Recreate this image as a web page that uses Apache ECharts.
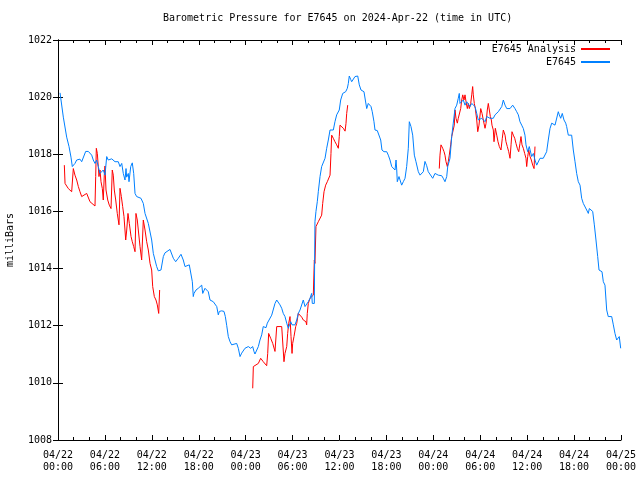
<!DOCTYPE html>
<html>
<head>
<meta charset="utf-8">
<script src="https://cdn.jsdelivr.net/npm/echarts@6/dist/echarts.min.js"></script>
<style>html,body{margin:0;padding:0;background:#fff}#c{width:640px;height:480px}</style>
</head>
<body>
<div id="c"></div>
<script>
// Hours since 2024-04-22 00:00 UTC
const blueHours = [0.26,0.68,1.11,1.41,1.66,1.83,1.96,2.17,2.39,2.81,3.03,3.24,3.54,3.88,4.09,4.31,4.51,4.73,4.95,5.15,5.37,5.59,5.79,6.01,6.23,6.43,6.65,6.87,7.07,7.29,7.71,7.93,8.15,8.35,8.57,8.70,8.78,8.99,9.08,9.30,9.50,9.68,9.85,10.06,10.27,10.61,10.91,11.13,11.55,11.98,12.19,12.62,12.83,13.17,13.47,13.68,14.32,14.75,15.05,15.38,15.73,16.02,16.24,16.46,16.79,17.01,17.18,17.30,17.39,17.65,17.94,18.16,18.38,18.51,18.80,19.02,19.22,19.44,19.66,19.86,20.08,20.30,20.50,20.63,20.94,21.23,21.40,21.58,21.78,22.00,22.21,22.42,22.85,23.06,23.28,23.49,23.70,23.91,24.34,24.46,24.64,24.90,25.07,25.19,25.41,25.62,25.83,26.05,26.25,26.47,26.60,26.77,27.02,27.33,27.53,27.75,27.97,28.17,28.39,28.61,28.81,29.03,29.25,29.45,29.58,29.76,29.93,30.31,30.53,30.73,30.95,31.17,31.37,31.59,31.80,32.01,32.23,32.44,32.52,32.78,32.86,32.99,33.16,33.29,33.51,33.72,33.93,34.15,34.36,34.57,34.79,35.00,35.21,35.42,35.64,35.85,35.97,36.15,36.41,36.61,36.79,37.00,37.13,37.25,37.43,37.56,37.76,37.98,38.20,38.33,38.53,38.75,38.92,39.13,39.35,39.48,39.68,39.90,40.03,40.19,40.41,40.54,40.83,41.05,41.27,41.43,41.69,42.04,42.24,42.46,42.68,42.88,43.10,43.23,43.32,43.39,43.61,43.74,43.95,44.16,44.38,44.59,44.80,44.93,45.14,45.36,45.57,45.78,46.08,46.30,46.51,46.72,46.93,47.15,47.35,47.57,47.92,48.21,48.63,49.07,49.27,49.49,49.71,49.84,50.13,50.35,50.55,50.77,50.99,51.19,51.32,51.41,51.63,51.83,52.05,52.27,52.47,52.69,52.91,53.11,53.33,53.55,53.75,53.97,54.19,54.39,54.61,54.83,55.03,55.25,55.47,55.67,55.89,56.11,56.31,56.53,56.75,56.95,57.17,57.39,57.81,58.15,58.44,58.66,58.87,59.08,59.30,59.51,59.72,59.85,60.07,60.27,60.58,60.79,61.00,61.22,61.42,61.64,61.86,62.06,62.28,62.49,62.70,62.92,63.14,63.34,63.56,63.78,63.98,64.11,64.29,64.49,64.71,64.93,65.05,65.26,65.69,65.90,66.12,66.33,66.54,66.76,66.97,67.18,67.40,67.61,67.82,67.95,68.13,68.38,68.59,68.80,69.02,69.19,69.40,69.57,69.74,69.95,70.17,70.37,70.81,71.02,71.23,71.45,71.65,71.78,71.96];
const blueValues = [1020.15,1019.3,1018.6,1018.27,1017.9,1017.57,1017.5,1017.68,1017.8,1017.83,1017.74,1017.8,1018.1,1018.1,1018.03,1017.97,1017.8,1017.68,1017.8,1017.57,1017.33,1017.27,1017.45,1017.27,1017.92,1017.8,1017.8,1017.84,1017.8,1017.74,1017.74,1017.57,1017.68,1017.33,1017.1,1017.5,1017.2,1017.33,1017.04,1017.57,1017.7,1017.33,1016.63,1016.52,1016.57,1016.46,1016.28,1015.93,1015.58,1015.0,1014.53,1014.07,1013.92,1013.95,1014.42,1014.55,1014.67,1014.36,1014.24,1014.36,1014.5,1014.3,1014.07,1014.13,1014.13,1014.07,1013.54,1013.02,1013.13,1013.25,1013.31,1013.37,1013.42,1013.13,1013.31,1013.28,1013.19,1012.9,1012.96,1012.84,1012.78,1012.67,1012.38,1012.5,1012.52,1012.5,1012.32,1012.0,1011.62,1011.44,1011.33,1011.38,1011.38,1011.21,1010.92,1011.04,1011.09,1011.21,1011.27,1011.33,1011.21,1011.27,1011.09,1011.01,1011.01,1011.27,1011.5,1011.68,1011.97,1012.03,1011.93,1012.09,1012.06,1012.37,1012.43,1012.78,1012.9,1012.84,1012.73,1012.61,1012.43,1012.32,1012.09,1011.91,1011.85,1012.14,1012.03,1012.03,1012.2,1012.43,1012.55,1012.61,1012.9,1012.67,1012.61,1012.84,1012.96,1013.13,1012.78,1012.78,1015.64,1016.0,1016.34,1016.69,1017.22,1017.57,1017.62,1017.86,1018.21,1018.5,1018.85,1018.9,1018.85,1019.14,1019.38,1019.44,1019.55,1019.9,1020.13,1020.07,1020.19,1020.31,1020.48,1020.74,1020.62,1020.54,1020.54,1020.72,1020.66,1020.74,1020.43,1020.25,1020.31,1020.19,1020.13,1019.6,1019.78,1019.84,1019.67,1019.49,1019.14,1018.85,1018.83,1018.9,1018.5,1018.15,1018.09,1018.09,1017.97,1017.8,1017.57,1017.51,1017.45,1017.8,1017.45,1017.04,1017.22,1017.1,1016.92,1017.04,1017.16,1017.57,1018.21,1019.14,1018.97,1018.67,1017.97,1017.74,1017.39,1017.27,1017.27,1017.39,1017.75,1017.6,1017.39,1017.33,1017.16,1017.33,1017.27,1017.25,1017.16,1017.04,1017.22,1017.57,1017.86,1018.62,1019.09,1019.6,1019.72,1019.96,1020.13,1019.78,1019.78,1019.9,1019.72,1019.84,1019.78,1019.67,1019.78,1019.72,1019.67,1019.43,1019.2,1019.14,1019.26,1019.2,1019.14,1019.32,1019.38,1019.26,1019.2,1019.26,1019.38,1019.32,1019.49,1019.43,1019.67,1019.9,1019.72,1019.6,1019.6,1019.72,1019.6,1019.49,1019.38,1019.14,1019.02,1018.9,1018.67,1018.33,1018.09,1018.27,1017.92,1018.03,1017.8,1017.62,1017.62,1017.86,1017.92,1017.86,1017.92,1018.09,1018.5,1018.9,1019.09,1019.12,1019.02,1019.09,1019.49,1019.38,1019.26,1019.43,1019.2,1019.09,1018.97,1018.67,1018.67,1018.15,1017.74,1017.33,1017.04,1016.92,1016.46,1016.28,1016.22,1016.05,1015.93,1016.1,1016.05,1016.0,1015.53,1015.0,1014.42,1013.95,1014.0,1013.89,1013.54,1013.42,1012.55,1012.32,1012.32,1012.03,1011.73,1011.5,1011.56,1011.62,1011.21];

const redHours = [0.81,0.90,1.11,1.32,1.75,1.96,2.17,2.39,2.60,2.81,3.03,3.24,3.67,3.88,4.09,4.31,4.73,4.82,4.90,5.03,5.15,5.24,5.37,5.50,5.67,5.79,5.92,6.01,6.14,6.36,6.56,6.78,6.94,7.07,7.20,7.38,7.58,7.80,7.93,8.10,8.27,8.44,8.66,8.79,8.95,9.12,9.34,9.50,9.68,9.85,9.97,10.14,10.27,10.49,10.70,10.91,11.13,11.34,11.55,11.77,11.98,12.11,12.32,12.53,12.70,12.88,13.00,
  18.0,
  24.90,24.98,25.19,25.62,25.92,26.25,26.69,26.82,26.94,27.20,27.46,27.75,27.97,28.61,28.81,28.90,29.03,29.25,29.37,29.50,29.67,29.80,29.93,30.01,30.18,30.40,30.53,30.73,30.95,31.17,31.37,31.71,31.80,31.88,32.01,32.23,32.44,32.65,32.78,32.86,32.99,33.29,33.72,33.85,34.02,34.23,34.44,34.79,34.91,35.00,35.21,35.42,35.64,35.85,35.97,36.06,36.28,36.49,36.71,36.83,36.92,37.05,
  42.0,
  48.76,48.85,48.98,49.20,49.37,49.49,49.62,49.79,49.91,50.04,50.22,50.35,50.48,50.55,50.68,50.77,50.90,51.07,51.19,51.32,51.50,51.63,51.76,51.92,52.05,52.18,52.35,52.47,52.60,52.78,52.91,53.03,53.11,53.24,53.37,53.55,53.68,53.84,54.06,54.23,54.39,54.61,54.74,54.90,55.03,55.16,55.29,55.42,55.50,55.67,55.76,55.93,56.11,56.27,56.44,56.65,56.82,56.95,57.17,57.29,57.46,57.64,57.81,57.94,58.06,58.23,58.41,58.57,58.74,58.92,59.08,59.21,59.34,59.51,59.68,59.85,59.94,60.07,60.20,60.37,60.53,60.71,60.88,61.00];
const redValues = [1017.62,1016.98,1016.92,1016.8,1016.69,1017.5,1017.27,1017.1,1016.87,1016.69,1016.52,1016.55,1016.63,1016.57,1016.34,1016.28,1016.19,1017.22,1018.21,1018.03,1017.57,1017.22,1017.45,1017.04,1016.8,1016.4,1017.27,1017.59,1016.75,1016.4,1016.22,1016.1,1017.45,1017.27,1016.75,1016.4,1015.93,1015.53,1016.81,1016.52,1016.17,1015.82,1015.0,1015.35,1015.93,1015.58,1015.12,1014.94,1014.77,1014.59,1015.93,1015.7,1015.35,1014.77,1014.3,1015.7,1015.35,1014.94,1014.65,1014.18,1013.95,1013.37,1013.02,1012.9,1012.73,1012.43,1013.25,
  null,
  1009.81,1010.57,1010.63,1010.68,1010.86,1010.74,1010.6,1011.03,1011.73,1011.56,1011.38,1011.1,1011.97,1011.97,1011.91,1010.74,1011.03,1011.27,1011.73,1012.08,1012.32,1011.62,1011.03,1011.38,1011.62,1011.97,1012.08,1012.43,1012.43,1012.3,1012.2,1012.14,1012.03,1012.43,1012.78,1012.96,1013.02,1013.07,1014.3,1014.18,1015.47,1015.64,1015.87,1016.28,1016.69,1016.92,1017.04,1017.27,1018.03,1018.67,1018.56,1018.44,1018.33,1018.21,1018.62,1019.02,1018.97,1018.91,1018.81,1019.08,1019.43,1019.72,
  null,
  1017.5,1017.97,1018.33,1018.21,1018.09,1017.97,1017.74,1017.57,1017.74,1017.97,1018.33,1018.62,1018.67,1018.62,1019.02,1019.55,1019.26,1019.09,1019.26,1019.32,1019.6,1019.9,1020.08,1019.9,1020.08,1019.84,1019.6,1019.78,1019.6,1019.78,1020.08,1020.37,1020.08,1019.78,1019.6,1019.2,1018.79,1019.02,1019.6,1019.43,1019.2,1018.91,1019.08,1019.55,1019.78,1019.55,1019.32,1019.2,1019.02,1018.85,1018.44,1018.91,1018.67,1018.44,1018.27,1018.15,1018.56,1018.85,1018.67,1018.44,1018.27,1018.09,1017.86,1018.33,1018.79,1018.67,1018.56,1018.38,1018.21,1018.09,1018.38,1018.62,1018.33,1018.21,1018.03,1017.86,1017.57,1017.92,1018.15,1017.92,1017.8,1017.62,1017.5,1018.27];

const titleText = 'Barometric Pressure for E7645 on 2024-Apr-22 (time in UTC)';
const yAxisName = 'milliBars';
const seriesNames = ['E7645 Analysis', 'E7645'];
const dateLabels = ['04/22', '04/23', '04/24', '04/25'];

const FONT = 'DejaVu Sans Mono';
const blueData = blueHours.map((h, i) => [h, blueValues[i]]);
const redData = redHours.map((h, i) => [h, redValues[i] === null ? NaN : redValues[i]]);

function xFmt(v) {
  const d = Math.floor(v / 24);
  const h = v - d * 24;
  return dateLabels[d] + '\n' + (h < 10 ? '0' : '') + h + ':00';
}

const baseX = {
  type: 'value', min: 0, max: 72, interval: 6,
  axisLine: { show: true, lineStyle: { color: '#000', width: 1 } },
  axisTick: { show: true, inside: true, length: 5, lineStyle: { color: '#000' } },
  minorTick: { show: true, splitNumber: 3, length: 3, lineStyle: { color: '#000' } },
  splitLine: { show: false },
  minorSplitLine: { show: false }
};
const baseY = {
  type: 'value', min: 1008, max: 1022, interval: 2,
  axisLine: { show: true, lineStyle: { color: '#000', width: 1 } },
  axisTick: { show: true, inside: true, length: 5, lineStyle: { color: '#000' } },
  splitLine: { show: false }
};

const chart = echarts.init(document.getElementById('c'), null, { renderer: 'canvas' });
chart.setOption({
  animation: false,
  backgroundColor: '#fff',
  textStyle: { fontFamily: FONT },
  title: {
    text: titleText, left: 163, top: 13, padding: 0,
    textStyle: { fontFamily: FONT, fontSize: 10, fontWeight: 'normal', color: '#000' }
  },
  legend: [
    { data: [seriesNames[0]], right: 30, top: 44, orient: 'vertical', align: 'right', padding: 0,
      itemWidth: 29, itemHeight: 2, icon: 'rect',
      textStyle: { fontFamily: FONT, fontSize: 10, color: '#000' } },
    { data: [seriesNames[1]], right: 30, top: 57, orient: 'vertical', align: 'right', padding: 0,
      itemWidth: 29, itemHeight: 2, icon: 'rect',
      textStyle: { fontFamily: FONT, fontSize: 10, color: '#000' } }
  ],
  grid: { left: 58, right: 19, top: 40, bottom: 40, containLabel: false, outerBoundsMode: 'none' },
  xAxis: [
    Object.assign({}, baseX, {
      position: 'bottom',
      axisLabel: { show: true, formatter: xFmt, margin: 9, fontFamily: FONT, fontSize: 10, color: '#000', lineHeight: 12 }
    }),
    Object.assign({}, baseX, { position: 'top', axisLabel: { show: false } })
  ],
  yAxis: [
    Object.assign({}, baseY, {
      position: 'left',
      name: yAxisName, nameLocation: 'middle', nameGap: 43,
      nameTextStyle: { fontFamily: FONT, fontSize: 10, color: '#000' },
      axisLabel: { show: true, margin: 6, fontFamily: FONT, fontSize: 10, color: '#000', formatter: v => String(v) }
    }),
    Object.assign({}, baseY, { position: 'right', axisLabel: { show: false } })
  ],
  series: [
    { name: seriesNames[0], type: 'line', data: redData, showSymbol: false, symbol: 'none',
      connectNulls: false, color: '#ff0000', itemStyle: { color: '#ff0000' },
      lineStyle: { color: '#ff0000', width: 1 }, xAxisIndex: 0, yAxisIndex: 0 },
    { name: seriesNames[1], type: 'line', data: blueData, showSymbol: false, symbol: 'none',
      color: '#0080ff', itemStyle: { color: '#0080ff' },
      lineStyle: { color: '#0080ff', width: 1 }, xAxisIndex: 0, yAxisIndex: 0 }
  ]
});
</script>
</body>
</html>
